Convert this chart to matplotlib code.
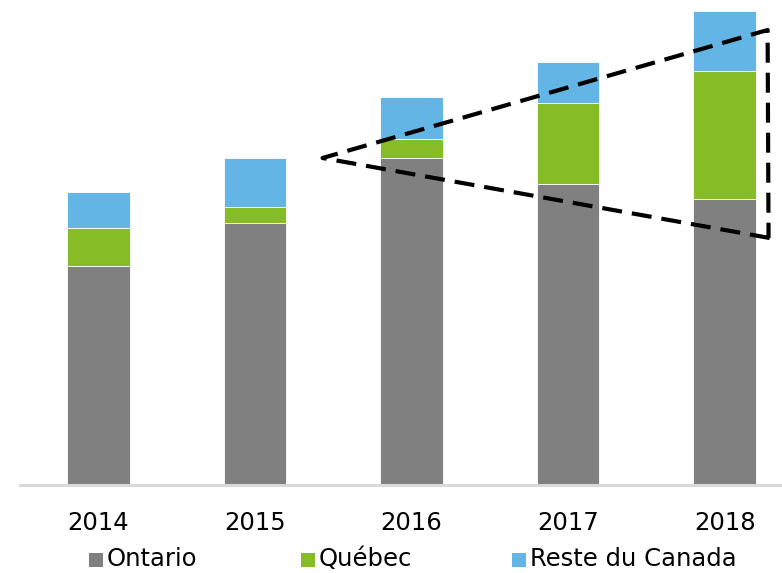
import matplotlib
matplotlib.use("Agg")
import matplotlib.pyplot as plt
from matplotlib.patches import Rectangle
import numpy as np

plt.rcParams['font.family'] = ['DejaVu Sans']

# ---- data (arbitrary units) ----
years = ["2014", "2015", "2016", "2017", "2018"]
ontario = [219, 262, 327, 301, 286]
quebec = [38, 16, 19, 81, 128]
reste = [36, 49, 42, 41, 60]
series_names = ["Ontario", "Québec", "Reste du Canada"]
colors = ["#808080", "#86BC25", "#62B5E5"]

# dashed "funnel" annotation (data coords)
funnel_x = [4.287, 1.432, 4.274, 4.280]
funnel_y = [247, 327, 455, 247]

W, H = 782, 573
fig = plt.figure(figsize=(W / 100, H / 100), dpi=100)

ax_left, ax_right, ax_bottom, ax_top = 20, 782, 485, 0
ax = fig.add_axes([ax_left / W, (H - ax_bottom) / H,
                   (ax_right - ax_left) / W, (ax_bottom - ax_top) / H])

x = np.arange(len(years))
width = 0.40
bottom = np.zeros(len(years))
for vals, name, c in zip([ontario, quebec, reste], series_names, colors):
    ax.bar(x, vals, width, bottom=bottom, color=c, edgecolor="white",
           linewidth=0.6, label=name, zorder=2)
    bottom += np.array(vals)

ax.plot(funnel_x, funnel_y, color="black", linewidth=3.0,
        linestyle=(0, (4.8, 2.4)), clip_on=False, zorder=3,
        solid_joinstyle="miter", dash_capstyle="butt")

spacing_px = 156.6
ax.set_xlim(-0.5, -0.5 + (ax_right - ax_left) / spacing_px)
ax.set_ylim(0, ax_bottom - ax_top)

FS = 17.5
ax.set_xticks(x)
ax.set_xticklabels(years, fontsize=FS, color="#000000")
ax.tick_params(axis="x", length=0, pad=19)
ax.set_yticks([])
for s in ["top", "right", "left"]:
    ax.spines[s].set_visible(False)
ax.spines["bottom"].set_color("#d9d9d9")
ax.spines["bottom"].set_linewidth(2.2)

# legend: square swatch + label, laid out in figure pixels
leg_x = [89, 301, 512]          # swatch left edges (px)
sw = 14                          # swatch size (px)
baseline = 566                   # text baseline (px from top)
for lx, name, c in zip(leg_x, series_names, colors):
    fig.patches.append(Rectangle((lx / W, (H - baseline - 1) / H), sw / W, sw / H,
                                 transform=fig.transFigure, facecolor=c,
                                 edgecolor="none"))
    fig.text((lx + sw + 4) / W, (H - baseline) / H, name, fontsize=FS,
             va="baseline", ha="left", color="#000000")

fig.savefig("out.png", dpi=100)
